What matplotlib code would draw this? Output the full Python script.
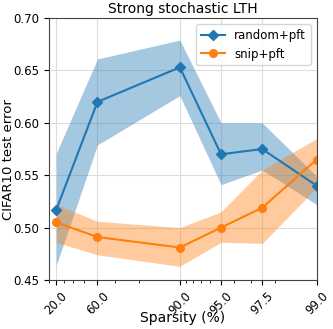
import matplotlib
matplotlib.use("Agg")
import matplotlib.pyplot as plt
import numpy as np

sparsity = [20.0, 60.0, 90.0, 95.0, 97.5, 99.0]
tick_labels = ["20.0", "60.0", "90.0", "95.0", "97.5", "99.0"]

random_mean = [0.517, 0.620, 0.653, 0.570, 0.575, 0.540]
random_low = [0.464, 0.579, 0.626, 0.541, 0.555, 0.522]
random_high = [0.571, 0.661, 0.679, 0.600, 0.600, 0.549]

snip_mean = [0.505, 0.491, 0.481, 0.500, 0.519, 0.565]
snip_low = [0.486, 0.474, 0.463, 0.486, 0.485, 0.538]
snip_high = [0.522, 0.506, 0.500, 0.515, 0.555, 0.585]

# density = 100 - sparsity, plotted on an inverted log axis
density = 100 - np.array(sparsity)

fig = plt.figure(figsize=(3.33, 3.29), dpi=100)
ax = fig.add_axes([0.148, 0.149, 0.803, 0.796])

ax.fill_between(density, random_low, random_high, color="tab:blue", alpha=0.4, linewidth=0)
ax.plot(density, random_mean, marker="D", color="tab:blue", linewidth=1.5, markersize=5.5, label="random+pft")
ax.fill_between(density, snip_low, snip_high, color="tab:orange", alpha=0.4, linewidth=0)
ax.plot(density, snip_mean, marker="o", color="tab:orange", linewidth=1.5, markersize=5.5, label="snip+pft")

ax.set_xscale("log")
ax.set_xlim(90, 1)
ax.set_ylim(0.45, 0.70)
ax.set_xticks(density)
ax.set_xticklabels(tick_labels, rotation=45, fontsize=8.5)
ax.minorticks_on()
ax.tick_params(axis="x", which="minor", labelbottom=False)
ax.tick_params(axis="y", which="minor", left=False)
ax.set_yticks([0.45, 0.50, 0.55, 0.60, 0.65, 0.70])
ax.tick_params(axis="y", labelsize=8.5)
ax.grid(True, which="major", color="#dddddd", linewidth=0.8)
ax.set_axisbelow(True)
for s in ax.spines.values():
    s.set_color("#444444")

ax.set_title("Strong stochastic LTH", fontsize=10, pad=4)
ax.set_xlabel("Sparsity (%)", fontsize=10)
ax.set_ylabel("CIFAR10 test error", fontsize=9.5)
ax.xaxis.set_label_coords(0.5, -0.12)
ax.yaxis.set_label_coords(-0.128, 0.46)
ax.legend(loc="upper right", fontsize=8.5)

fig.savefig("out.png", dpi=100)
